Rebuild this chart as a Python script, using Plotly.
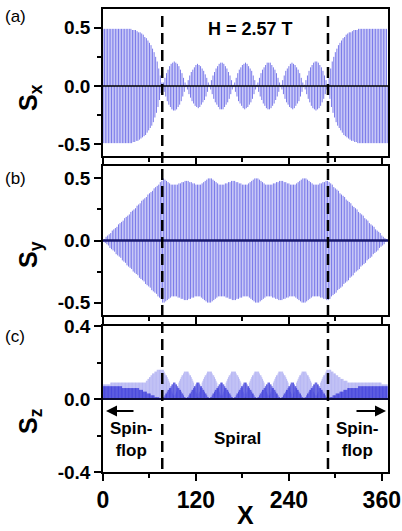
import plotly.graph_objects as go

# ---------------- data (site index x = 0 .. 367) ----------------
# |Sx| per site (sign alternates between the two antiferromagnetic sublattices)
sx_left = [.49,.49,.49,.49,.49,.49,.49,.49,.49,.49,
           .49,.49,.49,.49,.49,.49,.49,.49,.49,.49,
           .49,.49,.49,.49,.49,.49,.49,.49,.49,.49,
           .49,.49,.49,.49,.49,.49,.49,.49,.48,.48,
           .48,.48,.48,.47,.47,.47,.46,.46,.46,.45,
           .45,.44,.44,.43,.42,.42,.41,.40,.39,.38,
           .37,.36,.35,.34,.32,.31,.29,.27,.25,.23,
           .21,.18,.15,.12,.09,.06,.03]
sx_lobe_a = [.01,.03,.05,.07,.09,.11,.13,.14,.16,.17,.18,.19,.20,.20,.21,.21,
             .21,.20,.20,.19,.18,.17,.16,.14,.13,.11,.09,.07,.05,.03,.01]
sx_lobe_b = [.01,.03,.05,.07,.09,.10,.12,.13,.14,.15,.16,.17,.18,.18,.19,
             .19,.18,.18,.17,.16,.15,.14,.13,.12,.10,.09,.07,.05,.03,.01]
sx_lobe_c = [.01,.03,.05,.07,.09,.11,.12,.14,.15,.16,.17,.18,.19,.20,.20,.20,
             .20,.20,.19,.18,.17,.16,.15,.14,.12,.11,.09,.07,.05,.03,.01]
sx_lobe_d = [.01,.03,.05,.07,.09,.11,.13,.14,.15,.16,.17,.18,.19,.19,.20,
             .20,.19,.19,.18,.17,.16,.15,.14,.13,.11,.09,.07,.05,.03,.01]
sx_right = [.03,.07,.11,.15,.18,.21,.23,.25,.27,.29,
            .31,.32,.34,.35,.36,.37,.38,.39,.40,.41,
            .42,.42,.43,.44,.44,.45,.45,.46,.46,.46,
            .47,.47,.47,.48,.48,.48,.48,.48,.49,.49,
            .49,.49,.49,.49,.49,.49,.49,.49,.49,.49,
            .49,.49,.49,.49,.49,.49,.49,.49,.49,.49,
            .49,.49,.49,.49,.49,.49,.49,.49,.49,.49,
            .49,.49,.49,.49,.49,.49,.49]

# |Sy| per site
sy_left = [0,.01,.01,.02,.03,.03,.04,.04,.05,.06,
           .06,.07,.08,.08,.09,.09,.10,.11,.11,.12,
           .13,.13,.14,.14,.15,.16,.16,.17,.18,.18,
           .19,.20,.20,.21,.21,.22,.23,.23,.24,.25,
           .25,.26,.26,.27,.28,.28,.29,.30,.30,.31,
           .32,.32,.33,.33,.34,.35,.35,.36,.37,.37,
           .38,.38,.39,.40,.40,.41,.42,.42,.43,.43,
           .44,.45,.45,.46,.47,.47,.48]
sy_lobe_hl = [.50,.50,.50,.49,.49,.48,.48,.47,.47,.46,.46,.45,.45,.45,.45,.45,
              .45,.45,.45,.45,.46,.46,.46,.46,.47,.47,.47,.47,.48,.48,.48]
sy_lobe_lh = [.48,.48,.48,.47,.47,.47,.47,.46,.46,.46,.46,.45,.45,.45,.45,
              .45,.45,.45,.45,.46,.46,.47,.47,.48,.48,.49,.49,.50,.50,.50]
sy_right = [.48,.47,.47,.46,.45,.45,.44,
            .43,.43,.42,.42,.41,.40,.40,.39,.38,.38,
            .37,.37,.36,.35,.35,.34,.33,.33,.32,.32,
            .31,.30,.30,.29,.28,.28,.27,.26,.26,.25,
            .25,.24,.23,.23,.22,.21,.21,.20,.20,.19,
            .18,.18,.17,.16,.16,.15,.14,.14,.13,.13,
            .12,.11,.11,.10,.09,.09,.08,.08,.07,.06,
            .06,.05,.04,.04,.03,.03,.02,.01,.01,0]

# Sz, sublattice A (light stems)
sza_left = [.08,.08,.08,.08,.08,.08,.08,.08,.08,.08,
            .09,.09,.09,.09,.09,.09,.09,.09,.09,.09,
            .09,.09,.09,.09,.09,.09,.09,.09,.09,.09,
            .09,.09,.09,.09,.09,.09,.09,.09,.09,.09,
            .09,.09,.09,.09,.09,.09,.09,.09,.09,.09,
            .09,.09,.09,.09,.09,.09,.10,.10,.11,.11,
            .12,.12,.13,.13,.14,.14,.14,.15,.15,.15,
            .16,.16,.16,.16,.16,.16,.16]
sza_lobe_first = [.16,.16,.15,.14,.13,.13,.12,.11,.10,.09,.07,.06,.04,.03,.02,.00,
                  .02,.03,.04,.06,.07,.09,.10,.11,.12,.13,.13,.14,.15,.15,.15]
sza_lobe_30 = [.15,.15,.15,.14,.13,.13,.12,.11,.10,.09,.07,.06,.04,.03,.01,
               .01,.03,.04,.06,.07,.09,.10,.11,.12,.13,.13,.14,.15,.15,.15]
sza_lobe_31 = [.15,.15,.15,.14,.13,.13,.12,.11,.10,.09,.07,.06,.04,.03,.02,.00,
               .02,.03,.04,.06,.07,.09,.10,.11,.12,.13,.13,.14,.15,.15,.15]
sza_lobe_last = [.15,.15,.15,.14,.13,.13,.12,.11,.10,.09,.07,.06,.04,.03,.02,.00,
                 .02,.03,.04,.06,.07,.09,.10,.11,.12,.13,.13,.14,.15,.16,.16]
sza_right = [.16,.16,.16,.16,.15,.15,.15,.14,.14,.14,
             .13,.13,.13,.12,.12,.12,.11,.11,.11,.11,
             .10,.10,.10,.10,.10,.09,.09,.09,.09,.09,
             .09,.09,.09,.09,.09,.09,.09,.09,.09,.09,
             .09,.09,.09,.09,.09,.09,.09,.09,.09,.09,
             .09,.09,.09,.09,.09,.09,.09,.09,.09,.09,
             .09,.09,.09,.09,.09,.09,.09,.09,.09,.08,
             .08,.08,.08,.08,.08,.08,.08]

# Sz, sublattice B (dark stems)
szb_left = [.07,.07,.07,.07,.07,.07,.07,.07,.07,.07,
            .07,.07,.07,.07,.07,.07,.07,.07,.07,.07,
            .07,.07,.07,.07,.07,.06,.06,.06,.06,.06,
            .06,.06,.06,.06,.06,.06,.06,.06,.06,.06,
            .06,.06,.06,.06,.06,.06,.06,.05,.05,.05,
            .05,.05,.04,.04,.04,.04,.04,.03,.03,.03,
            .03,.03,.02,.02,.02,.02,.02,.01,.01,.01,
            .01,.01,.01,.00,.00,.00,.00]
szb_lobe_31 = [.00,.01,.01,.02,.03,.03,.04,.05,.05,.06,.06,.07,.08,.08,.09,.09,
               .09,.08,.08,.07,.06,.06,.05,.05,.04,.03,.03,.02,.01,.01,.00]
szb_lobe_30 = [.00,.01,.01,.02,.03,.03,.04,.05,.05,.06,.07,.07,.08,.09,.09,
               .09,.09,.08,.07,.07,.06,.05,.05,.04,.03,.03,.02,.01,.01,.00]
szb_right = [.00,.00,.01,.01,.01,.01,.02,.02,.02,.02,
             .03,.03,.03,.03,.03,.04,.04,.04,.04,.04,
             .05,.05,.05,.05,.05,.06,.06,.06,.06,.06,
             .06,.06,.06,.06,.06,.06,.06,.06,.06,.07,
             .07,.07,.07,.07,.07,.07,.07,.07,.07,.07,
             .07,.07,.07,.07,.07,.07,.07,.07,.07,.07,
             .07,.07,.07,.07,.07,.07,.07,.07,.07,.07,
             .07,.07,.07,.07,.07,.07,.07]

sx_amp = (sx_left + sx_lobe_a + sx_lobe_b + sx_lobe_c + sx_lobe_d
          + sx_lobe_c + sx_lobe_d + sx_lobe_a + sx_right)
sy_amp = (sy_left + sy_lobe_hl + sy_lobe_lh + sy_lobe_hl + sy_lobe_lh
          + sy_lobe_hl + sy_lobe_lh + sy_lobe_hl + sy_right)
sz_a = (sza_left + sza_lobe_first + sza_lobe_30 + sza_lobe_31 + sza_lobe_30
        + sza_lobe_31 + sza_lobe_30 + sza_lobe_last + sza_right)
sz_b = (szb_left + szb_lobe_31 + szb_lobe_30 + szb_lobe_31 + szb_lobe_30
        + szb_lobe_31 + szb_lobe_30 + szb_lobe_31 + szb_right)

boundaries = [76.5, 290.5]          # spin-flop / spiral boundaries
x_ticks = [0, 120, 240, 360]
x_minor = [60, 180, 300]

FONT = "Liberation Sans, Arial, sans-serif"
STEM = "rgb(122,122,234)"
LIGHT = "rgb(165,165,240)"
DARK = "rgb(45,45,215)"


def stems(values, alternate):
    xs, ys = [], []
    for i, v in enumerate(values):
        s = -v if (alternate and i % 2) else v
        xs += [i, i, None]
        ys += [0, s, None]
    return xs, ys


fig = go.Figure()
for vals, alt, xa, ya, col, w in [
        (sx_amp, True, "x", "y", STEM, 1.0),
        (sy_amp, True, "x2", "y2", STEM, 1.0),
        (sz_a, False, "x3", "y3", LIGHT, 0.7),
        (sz_b, False, "x3", "y3", DARK, 0.7)]:
    xs, ys = stems(vals, alt)
    fig.add_trace(go.Scatter(x=xs, y=ys, mode="lines", xaxis=xa, yaxis=ya,
                             line=dict(color=col, width=w),
                             showlegend=False, hoverinfo="skip"))

# geometry helpers (plot area 103..388 px horizontally, 9..472 px vertically)
L, R, T, B = 103, 388, 9, 472
def px(xp): return (xp - L) / (R - L)
def py(yp): return (B - yp) / (B - T)

xcommon = dict(range=[0, 368], showgrid=False, zeroline=False, showline=True,
               mirror=True, linecolor="black", linewidth=1.5, automargin=False,
               tickvals=x_ticks, ticks="outside", ticklen=7, tickwidth=1.5,
               tickcolor="black",
               minor=dict(tickvals=x_minor, ticks="outside", ticklen=4,
                          tickwidth=1.5, tickcolor="black", showgrid=False),
               tickfont=dict(family=FONT, size=23, color="black", weight="bold"))
ycommon = dict(showgrid=False, zeroline=False, showline=True, mirror=True,
               linecolor="black", linewidth=1.5, ticks="outside", ticklen=7,
               tickwidth=1.5, tickcolor="black", automargin=False,
               tickfont=dict(family=FONT, size=19, color="black", weight="bold"))

fig.update_layout(
    width=402, height=531, autosize=False,
    margin=dict(l=L, r=402 - R, t=T, b=531 - B, autoexpand=False),
    paper_bgcolor="white", plot_bgcolor="white",
    xaxis=dict(xcommon, domain=[0, 1], anchor="y", showticklabels=False),
    xaxis2=dict(xcommon, domain=[0, 1], anchor="y2", showticklabels=False),
    xaxis3=dict(xcommon, domain=[0, 1], anchor="y3"),
    yaxis=dict(ycommon, domain=[py(156), 1], anchor="x", range=[-0.6, 0.66],
               tickvals=[-0.5, 0, 0.5], ticktext=["-0.5", "0.0", "0.5"],
               minor=dict(tickvals=[-0.25, 0.25], ticks="outside", ticklen=4,
                          tickwidth=1.5, tickcolor="black", showgrid=False)),
    yaxis2=dict(ycommon, domain=[py(315), py(166)], anchor="x2", range=[-0.6, 0.6],
                tickvals=[-0.5, 0, 0.5], ticktext=["-0.5", "0.0", "0.5"],
                minor=dict(tickvals=[-0.25, 0.25], ticks="outside", ticklen=4,
                           tickwidth=1.5, tickcolor="black", showgrid=False)),
    yaxis3=dict(ycommon, domain=[0, py(326)], anchor="x3", range=[-0.4, 0.4],
                tickvals=[-0.4, 0, 0.4], ticktext=["-0.4", "0.0", "0.4"],
                minor=dict(tickvals=[-0.2, 0.2], ticks="outside", ticklen=4,
                           tickwidth=1.5, tickcolor="black", showgrid=False)),
)

shapes = []
for xr, yr, col, w in [("x domain", "y", "black", 1.6),
                       ("x2 domain", "y2", "rgb(25,25,110)", 2.5),
                       ("x3 domain", "y3", "rgb(15,15,60)", 2)]:
    shapes.append(dict(type="line", xref=xr, yref=yr, x0=0, x1=1, y0=0, y1=0,
                       line=dict(color=col, width=w), layer="above"))
for xb in boundaries:
    shapes.append(dict(type="line", xref="x3", yref="paper", x0=xb, x1=xb,
                       y0=py(469), y1=py(13),
                       line=dict(color="black", width=2.5, dash="11px,6px"),
                       layer="above"))
fig.update_layout(shapes=shapes)

ann = []
def text(t, xp, yp, size, bold=True, angle=0, xanchor="center"):
    ann.append(dict(text=t, x=px(xp), y=py(yp), xref="paper", yref="paper",
                    showarrow=False, xanchor=xanchor, yanchor="middle",
                    textangle=angle,
                    font=dict(family=FONT, size=size, color="black",
                              weight="bold" if bold else "normal")))

text("(a)", 3, 17, 17, bold=False, xanchor="left")
text("(b)", 3, 178, 17, bold=False, xanchor="left")
text("(c)", 3, 336, 17, bold=False, xanchor="left")
text("S<sub>x</sub>", 30, 98, 25, angle=-90)
text("S<sub>y</sub>", 30, 255, 25, angle=-90)
text("S<sub>z</sub>", 30, 421, 25, angle=-90)
text("X", 245, 515, 25)
text("H = 2.57 T", 250, 29, 18)
text("Spin-<br>flop", 131, 439, 17)
text("Spiral", 237, 438, 17)
text("Spin-<br>flop", 357, 439, 17)
for head, tail in [(106, 135), (386, 355)]:
    ann.append(dict(text="", x=px(head), y=py(411), xref="paper", yref="paper",
                    showarrow=True, ax=tail - head, ay=0, arrowhead=2,
                    arrowsize=1.1, arrowwidth=2, arrowcolor="black"))
fig.update_layout(annotations=ann)

fig.write_html("out.html", config={"displayModeBar": False},
               post_script="document.body.style.margin='0';"
                           "document.body.style.overflow='hidden';")
